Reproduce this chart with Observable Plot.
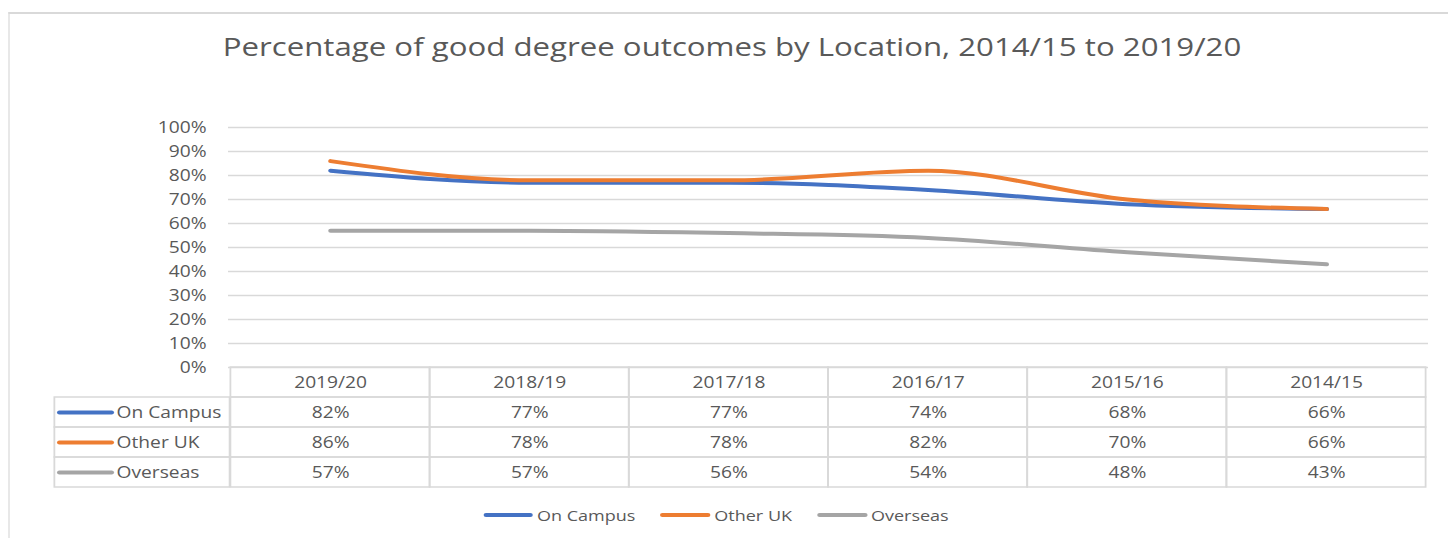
<!DOCTYPE html>
<html>
<head>
<meta charset="utf-8">
<script src="https://cdn.jsdelivr.net/npm/d3@7"></script>
<script src="https://cdn.jsdelivr.net/npm/@observablehq/plot@0.6"></script>
<style>
  body { margin: 0; background: #fff; font-family: "Open Sans", sans-serif; overflow: hidden; }
  #outer { position: relative; width: 1448px; height: 538px; overflow: hidden; background: #fff; }
  /* the reference is horizontally stretched by 1.2: lay out at 1448/1.2 and stretch */
  #wrap { position: absolute; left: 0; top: 0; width: 1207px; height: 538px;
          transform: scaleX(1.2); transform-origin: 0 0; }
  #frame { position: absolute; left: 6.7px; top: 12px; width: 1400px; height: 700px;
           border-top: 2px solid #d9d9d9; border-left: 1.7px solid #d9d9d9; }
  #title { position: absolute; left: 0; top: 28px; width: 1220px; text-align: center;
           font-size: 26px; line-height: 36px; color: #595959; white-space: nowrap; }
  #chart { position: absolute; left: 0; top: 90px; }
  #legend { position: absolute; left: 402.5px; top: 503px; height: 24px; display: flex; align-items: center;
            font-size: 15px; color: #595959; white-space: nowrap; }
  .sw { display: inline-block; width: 41.7px; height: 4px; border-radius: 2px; margin-right: 3.3px; }
  .item { display: flex; align-items: center; margin-right: 20.8px; }
</style>
</head>
<body>
<div id="outer">
<div id="wrap">
  <div id="frame"></div>
  <div id="title"></div>
  <div id="chart"></div>
  <div id="legend"></div>
</div>
</div>
<script>
const titleText = "Percentage of good degree outcomes by Location, 2014/15 to 2019/20";
const categories = ["2019/20", "2018/19", "2017/18", "2016/17", "2015/16", "2014/15"];
const seriesNames = ["On Campus", "Other UK", "Overseas"];
const seriesColors = ["#4472C4", "#ED7D31", "#A5A5A5"];
const onCampus = [0.82, 0.77, 0.77, 0.74, 0.68, 0.66];
const otherUK  = [0.86, 0.78, 0.78, 0.82, 0.70, 0.66];
const overseas = [0.57, 0.57, 0.56, 0.54, 0.48, 0.43];
const yTicks = [0, 0.1, 0.2, 0.3, 0.4, 0.5, 0.6, 0.7, 0.8, 0.9, 1];

const seriesValues = [onCampus, otherUK, overseas];
const long = seriesNames.flatMap((s, si) =>
  categories.map((c, i) => ({series: s, si, cat: c, value: seriesValues[si][i]})));

// layout (internal units; the page is stretched 1.2x horizontally)
const W = 1207, mLeft = 190, mRight = 17;
const bw = (W - mLeft - mRight) / categories.length;   // band width
const labelLeft = 43.3;                                  // left edge of the series-label column

// table rows below the 0% line, in y units (30px rows at 240px per 100%)
const rowH = 0.125;
const rowTop = (r) => -rowH * r;           // r = 0 header, 1..3 series
const rowMid = (r) => -rowH * (r + 0.5);
const pct = d3.format(".0%");
const border = "#d9d9d9";
const textCol = "#595959";

const headerCells = categories.map(c => ({cat: c, r: 0}));
const bodyCells = long.map(d => ({cat: d.cat, r: d.si + 1}));
const labelCells = seriesNames.map((s, si) => ({series: s, r: si + 1}));

document.getElementById("title").textContent = titleText;

const chart = Plot.plot({
  width: W,
  height: 410,
  marginTop: 37,
  marginBottom: 133,
  marginLeft: mLeft,
  marginRight: mRight,
  style: {fontFamily: "Open Sans, sans-serif", fontSize: "16px", color: textCol, background: "transparent", overflow: "visible"},
  x: {type: "band", domain: categories, padding: 0, axis: null},
  y: {domain: [0, 1], axis: null},
  color: {domain: seriesNames, range: seriesColors},
  marks: [
    Plot.gridY(yTicks, {stroke: border, strokeOpacity: 1, strokeWidth: 1.5}),
    Plot.axisY(yTicks, {tickFormat: pct, tickSize: 0, tickPadding: 18.3, fontSize: 16, fill: textCol, label: null}),
    // table cells
    Plot.barY(headerCells, {x: "cat", y1: d => rowTop(d.r), y2: d => rowTop(d.r + 1), fill: "none", stroke: border, strokeWidth: 1.5}),
    Plot.barY(bodyCells, {x: "cat", y1: d => rowTop(d.r), y2: d => rowTop(d.r + 1), fill: "none", stroke: border, strokeWidth: 1.5}),
    Plot.barY(labelCells, {x: () => categories[0], y1: d => rowTop(d.r), y2: d => rowTop(d.r + 1),
      dx: -bw, insetLeft: labelLeft - (mLeft - bw), fill: "none", stroke: border, strokeWidth: 1.5}),
    Plot.text(categories, {x: d => d, y: () => rowMid(0), text: d => d, fill: textCol, fontSize: 16}),
    Plot.text(long, {x: "cat", y: d => rowMid(d.si + 1), text: d => pct(d.value), fill: textCol, fontSize: 16}),
    Plot.tickY(labelCells, {x: () => categories[0], y: d => rowMid(d.r), dx: -bw,
      insetLeft: 47.5 - (mLeft - bw), insetRight: mLeft - 91.7,
      stroke: "series", strokeWidth: 4, strokeLinecap: "round"}),
    Plot.text(labelCells, {x: () => categories[0], y: d => rowMid(d.r), dx: 95 - (mLeft + bw / 2), textAnchor: "start",
      text: "series", fill: textCol, fontSize: 16}),
    // series lines
    Plot.line(long, {x: "cat", y: "value", z: "series", stroke: "series", strokeWidth: 4, curve: "monotone-x",
      strokeLinecap: "round", strokeLinejoin: "round"})
  ]
});
document.getElementById("chart").appendChild(chart);

const legend = document.getElementById("legend");
seriesNames.forEach((s, i) => {
  const item = document.createElement("div");
  item.className = "item";
  const sw = document.createElement("span");
  sw.className = "sw";
  sw.style.background = seriesColors[i];
  const t = document.createElement("span");
  t.textContent = s;
  item.appendChild(sw); item.appendChild(t);
  legend.appendChild(item);
});
</script>
</body>
</html>
